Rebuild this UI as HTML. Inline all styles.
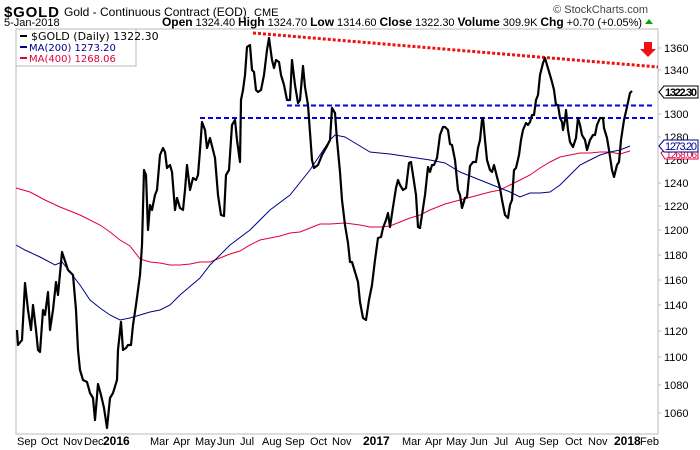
<!DOCTYPE html>
<html><head><meta charset="utf-8"><style>
body{margin:0;background:#fff;width:700px;height:450px;overflow:hidden}
svg{display:block;font-family:"Liberation Sans",sans-serif}
</style></head><body>
<svg width="700" height="450" viewBox="0 0 700 450">
<rect width="700" height="450" fill="#fff"/>
<text x="4" y="17" font-size="15" font-weight="bold" textLength="55">$GOLD</text>
<text x="64" y="16" font-size="12">Gold - Continuous Contract (EOD)</text>
<text x="254" y="16" font-size="11">CME</text>
<text x="4" y="26" font-size="11">5-Jan-2018</text>
<text x="162" y="26" font-size="11" textLength="480"><tspan font-weight="bold" font-size="12">Open</tspan> 1324.40 <tspan font-weight="bold" font-size="12">High</tspan> 1324.70 <tspan font-weight="bold" font-size="12">Low</tspan> 1314.60 <tspan font-weight="bold" font-size="12">Close</tspan> 1322.30 <tspan font-weight="bold" font-size="12">Volume</tspan> 309.9K <tspan font-weight="bold" font-size="12">Chg</tspan> +0.70 (+0.05%)</text>
<polygon points="645,24 653,24 649,19" fill="#0a0"/>
<text x="648" y="13" font-size="11" text-anchor="end" fill="#444">© StockCharts.com</text>
<rect x="16" y="29" width="642" height="405" fill="none" stroke="#bbb"/>
<g font-size="11" fill="#000">
<text x="664" y="52">1360</text><text x="664" y="74">1340</text><text x="664" y="118">1300</text>
<text x="664" y="141">1280</text><text x="664" y="164">1260</text><text x="664" y="187">1240</text>
<text x="664" y="210">1220</text><text x="664" y="234">1200</text><text x="664" y="259">1180</text>
<text x="664" y="284">1160</text><text x="664" y="309">1140</text><text x="664" y="335">1120</text>
<text x="664" y="361">1100</text><text x="664" y="389">1080</text><text x="664" y="417">1060</text>
</g>
<g stroke="#bbb"><line x1="658" y1="48" x2="661" y2="48"/><line x1="658" y1="70" x2="661" y2="70"/><line x1="658" y1="114" x2="661" y2="114"/><line x1="658" y1="137" x2="661" y2="137"/><line x1="658" y1="183" x2="661" y2="183"/><line x1="658" y1="206" x2="661" y2="206"/><line x1="658" y1="230" x2="661" y2="230"/><line x1="658" y1="255" x2="661" y2="255"/><line x1="658" y1="280" x2="661" y2="280"/><line x1="658" y1="305" x2="661" y2="305"/><line x1="658" y1="331" x2="661" y2="331"/><line x1="658" y1="357" x2="661" y2="357"/><line x1="658" y1="385" x2="661" y2="385"/><line x1="658" y1="413" x2="661" y2="413"/></g>
<g font-size="11">
<text x="17" y="445">Sep</text><text x="41" y="445">Oct</text><text x="63" y="445">Nov</text><text x="84" y="445">Dec</text>
<text x="103" y="445" font-weight="bold" font-size="12">2016</text>
<text x="150" y="445">Mar</text><text x="173" y="445">Apr</text><text x="195" y="445">May</text><text x="217" y="445">Jun</text>
<text x="240" y="445">Jul</text><text x="262" y="445">Aug</text><text x="285" y="445">Sep</text><text x="310" y="445">Oct</text><text x="332" y="445">Nov</text>
<text x="363" y="445" font-weight="bold" font-size="12">2017</text>
<text x="402" y="445">Mar</text><text x="425" y="445">Apr</text><text x="446" y="445">May</text><text x="470" y="445">Jun</text>
<text x="494" y="445">Jul</text><text x="515" y="445">Aug</text><text x="539" y="445">Sep</text><text x="565" y="445">Oct</text><text x="588" y="445">Nov</text>
<text x="614" y="445" font-weight="bold" font-size="12">2018</text><text x="640" y="445">Feb</text>
</g>
<polyline fill="none" stroke="#e0003c" stroke-width="1" points="16,188 30,192 45,200 60,207 80,215 100,225 110,232 120,240 130,246 140,259 150,262 160,263 170,265 180,265 190,264 200,262 210,262 220,258 230,254 240,251 250,245 260,240 270,238 280,236 290,233 300,232 310,228 320,224 330,224 345,223 360,225 370,227 380,227 390,226 400,222 410,218 420,215 430,210 445,204 460,200 475,196 490,192 500,190 510,185 520,180 530,175 540,168 550,162 560,157 570,155 580,153 590,153 600,152 610,152 620,154 630,151"/>
<polyline fill="none" stroke="#00008b" stroke-width="1" points="16,245 25,250 40,257 55,265 62,262 70,272 80,285 90,300 100,308 110,315 120,320 130,318 140,315 150,312 160,310 170,305 180,295 200,278 210,265 230,245 250,230 270,210 290,195 310,170 330,140 335,135 345,137 355,143 370,152 390,154 410,157 430,160 445,163 460,172 480,180 500,188 510,192 520,197 530,193 540,193 550,192 560,185 570,175 580,165 590,160 600,155 610,152 620,150 630,146"/>
<line x1="287" y1="105.5" x2="655" y2="105.5" stroke="#0000ee" stroke-width="2" stroke-dasharray="5,3"/>
<line x1="200" y1="118" x2="655" y2="118" stroke="#0000ee" stroke-width="2" stroke-dasharray="5,3"/>
<line x1="253" y1="33" x2="658" y2="67" stroke="#ee1111" stroke-width="3" stroke-dasharray="3,2"/>
<polyline fill="none" stroke="#000" stroke-width="2.2" stroke-linejoin="round" points="17,330 18,345 22,340 25,283 28,310 31,330 33,305 36,330 38,350 40,352 43,310 45,315 48,292 50,330 53,310 56,282 58,295 62,252 64,258 68,270 70,272 73,275 76,310 78,350 80,370 83,380 87,382 90,393 93,398 95,420 98,384 101,395 104,408 107,428 110,398 113,393 117,380 118,350 121,322 123,350 126,348 128,345 131,345 133,325 136,305 140,275 142,245 144,170 146,175 148,230 150,205 152,210 155,195 157,190 160,155 163,148 165,152 167,168 170,165 172,172 175,210 177,198 180,208 183,210 185,190 187,165 190,190 193,178 196,180 198,175 200,150 202,122 205,130 207,148 210,138 213,150 215,158 218,195 221,215 224,216 226,175 229,170 232,125 235,120 237,140 240,162 241,100 243,90 245,75 247,47 250,45 252,70 254,72 256,90 258,92 261,90 264,75 267,50 269,38 272,60 274,68 276,60 279,62 281,75 284,85 287,100 290,100 292,60 295,85 298,103 300,100 303,66 305,87 308,105 312,160 314,168 318,165 322,155 326,148 330,140 332,108 335,113 337,140 340,172 342,200 345,225 348,243 350,262 352,262 355,272 358,282 360,302 363,318 366,320 369,300 372,285 375,260 378,238 381,237 383,228 386,220 388,213 390,227 393,207 396,188 398,180 400,185 403,190 406,188 409,163 411,162 413,175 416,195 418,227 420,228 422,215 425,195 428,167 430,172 432,165 434,165 437,158 440,135 443,127 445,127 448,130 450,144 452,145 455,160 458,190 460,195 462,208 465,198 467,197 470,166 473,162 476,162 478,148 480,140 482,120 483,118 485,140 487,160 490,170 492,172 494,165 497,177 500,188 502,200 505,215 508,218 510,205 512,200 514,170 516,168 519,155 521,140 523,130 526,123 528,125 530,122 532,115 534,115 536,100 538,95 540,75 543,63 545,58 547,65 550,75 552,82 554,90 556,105 558,105 560,118 562,122 563,130 565,120 566,110 568,130 570,142 573,147 576,138 578,118 580,125 582,135 585,140 587,150 590,140 593,135 595,135 597,125 600,118 603,118 604,128 607,138 609,150 612,170 614,177 617,165 619,162 621,140 624,120 627,107 630,93 632,91"/>
<polygon points="644,42 652,42 652,49 656,49 648,57 640,49 644,49" fill="#ee1111"/>
<rect x="16" y="29" width="120" height="37" fill="#fff" stroke="#bbb"/>
<g font-size="11" font-family="DejaVu Sans,sans-serif">
<line x1="20" y1="36" x2="27" y2="36" stroke="#000" stroke-width="2"/><text x="31" y="40">$GOLD (Daily) 1322.30</text>
<line x1="20" y1="47" x2="27" y2="47" stroke="#00008b" stroke-width="2"/><text x="29" y="51" fill="#00008b" font-size="10">MA(200) 1273.20</text>
<line x1="20" y1="58" x2="27" y2="58" stroke="#e0003c" stroke-width="2"/><text x="29" y="62" fill="#e0003c" font-size="10">MA(400) 1268.06</text>
</g>
<polygon points="661,153 665,149 698,149 698,159 665,159" fill="#fff" stroke="#e0003c"/>
<text x="666" y="158" font-size="10" fill="#e0003c" textLength="31">1268.06</text>
<polygon points="659,146 664,140 698,140 698,152 664,152" fill="#fff" stroke="#00008b"/>
<text x="665" y="150" font-size="11" fill="#00008b" textLength="32">1273.20</text>
<polygon points="659,92 664,86 698,86 698,98 664,98" fill="#fff" stroke="#000"/>
<text x="665" y="96" font-size="11" font-weight="bold" textLength="32">1322.30</text>
</svg>
</body></html>
